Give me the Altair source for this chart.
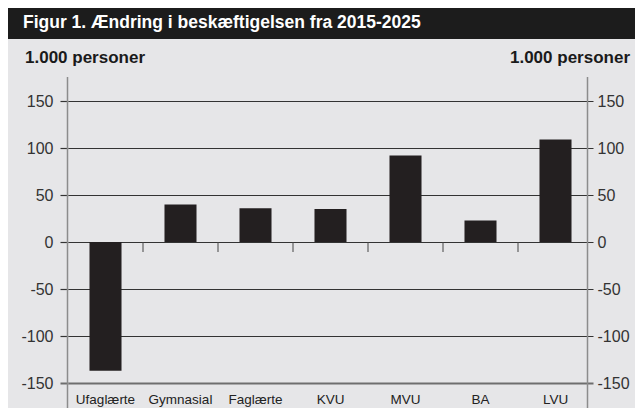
import altair as alt
import pandas as pd

categories = ["Ufaglærte", "Gymnasial", "Faglærte", "KVU", "MVU", "BA", "LVU"]
values = [-137, 40, 36, 35, 92, 23, 109]
y_ticks = [-150, -100, -50, 0, 50, 100, 150]
title_text = "Figur 1. Ændring i beskæftigelsen fra 2015-2025"
unit_text = "1.000 personer"

df = pd.DataFrame({"cat": categories, "val": values})
sep = pd.DataFrame({"cat": categories[1:]})
txt = pd.DataFrame({"t": [title_text], "u": [unit_text]})

W, H = 525, 282
FONT = "Liberation Sans"
BG = "#e6e6e8"

xscale = alt.Scale(domain=categories, paddingInner=0, paddingOuter=0)
yscale = alt.Scale(domain=[-150, 150], nice=False)

grid_color = alt.condition("datum.value === -150", alt.value("#6e6e6e"), alt.value("#333333"))
grid_width = alt.condition("datum.value === -150", alt.value(2), alt.value(1.2))

x_enc = alt.X("cat:N", scale=xscale, sort=categories,
              axis=alt.Axis(orient="bottom", title=None, labelFontSize=13.5, ticks=False,
                            domain=False, labelPadding=20, labelBaseline="alphabetic",
                            labelAngle=0, labelColor="#222222", labelFont=FONT))

bars = alt.Chart(df).mark_bar(color="#231f20", width=alt.RelativeBandSize(0.427)).encode(
    x=x_enc,
    y=alt.Y("val:Q", scale=yscale,
            axis=alt.Axis(values=y_ticks, orient="left", title=None, grid=True,
                          gridColor=grid_color, gridWidth=grid_width,
                          tickColor=grid_color, tickWidth=grid_width, tickSize=8,
                          domain=False, labelPadding=7, labelFontSize=16,
                          labelExpr="datum.value + ''",
                          labelColor="#333333", labelFont=FONT, labelFontWeight="normal")),
)

right_axis = alt.Chart(df).mark_point(opacity=0).encode(
    y=alt.Y("val:Q", scale=yscale,
            axis=alt.Axis(values=y_ticks, orient="right", title=None, grid=False,
                          ticks=False, domain=False, labelPadding=4, labelFontSize=16,
                          labelExpr="datum.value + ''",
                          labelColor="#333333", labelFont=FONT)),
)

sep_ticks = alt.Chart(sep).mark_rule(color="#444444", strokeWidth=1).encode(
    x=alt.X("cat:N", scale=xscale, sort=categories, bandPosition=0),
    y=alt.Y(datum=0, scale=yscale, axis=None),
    y2=alt.value(H / 2 + 10),
)

vline_left = alt.Chart(txt).mark_rule(color="#8c8c8c", strokeWidth=1.5).encode(
    x=alt.value(-0.5), y=alt.value(-24), y2=alt.value(H + 25)
)
vline_right = alt.Chart(txt).mark_rule(color="#8c8c8c", strokeWidth=1.5).encode(
    x=alt.value(519.5), y=alt.value(-24), y2=alt.value(H + 25)
)

title_bar = alt.Chart(txt).mark_rect(color="#1c1c1c").encode(
    x=alt.value(-60), x2=alt.value(567), y=alt.value(-93), y2=alt.value(-62)
)
title = alt.Chart(txt).mark_text(
    align="left", baseline="alphabetic", fontSize=17.5, fontWeight="bold",
    color="white", font=FONT
).encode(text="t:N", x=alt.value(-45), y=alt.value(-73))
unit_left = alt.Chart(txt).mark_text(
    align="left", baseline="alphabetic", fontSize=17, fontWeight="bold",
    color="#1a1a1a", font=FONT
).encode(text="u:N", x=alt.value(-43), y=alt.value(-38))
unit_right = alt.Chart(txt).mark_text(
    align="right", baseline="alphabetic", fontSize=17, fontWeight="bold",
    color="#1a1a1a", font=FONT
).encode(text="u:N", x=alt.value(562), y=alt.value(-38))

chart = alt.layer(
    title_bar, bars, right_axis, sep_ticks, vline_left, vline_right,
    title, unit_left, unit_right
).resolve_axis(y="independent").properties(
    width=W, height=H,
    autosize=alt.AutoSizeParams(type="none"),
    padding={"left": 60, "top": 93, "right": 42, "bottom": 25},
    background=BG,
).configure_view(stroke=None)

chart.save("out.html", embed_options={"renderer": "svg", "actions": False})
